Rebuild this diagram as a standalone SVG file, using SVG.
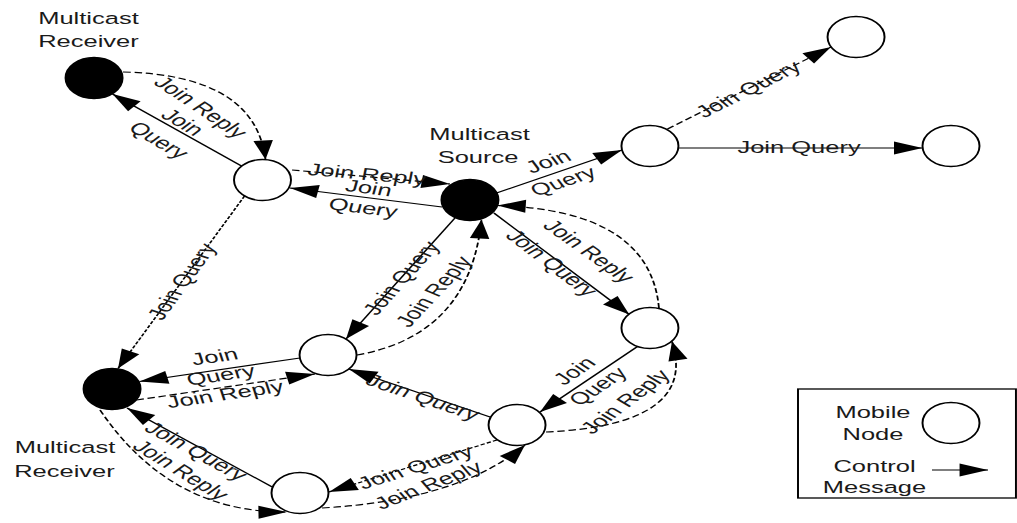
<svg xmlns="http://www.w3.org/2000/svg" width="1017" height="523" viewBox="0 0 1017 523">
  <style>
    .node { fill: #ffffff; stroke: #000000; stroke-width: 1.3; }
    .mc { fill: #000000; stroke: #000000; stroke-width: 1.3; }
    .q { fill: none; stroke: #000000; stroke-width: 1.2; }
    .qd { fill: none; stroke: #000000; stroke-width: 1.2; stroke-dasharray: 3 1.5; }
    .r { fill: none; stroke: #000000; stroke-width: 1.2; stroke-dasharray: 5 2.5; }
    text { font-family: "Liberation Sans", Arial, sans-serif; font-size: 17px; fill: #1a1a1a; text-anchor: middle; }
    .legend-box { fill: none; stroke: #000000; stroke-width: 1.3; }
  </style>
  <defs>
    <marker id="arrow" markerUnits="userSpaceOnUse" markerWidth="20" markerHeight="14" refX="19" refY="6.5" orient="auto" overflow="visible">
      <path d="M0,0 L19,6.5 L0,13 z" fill="#000000"/>
    </marker>
  </defs>

  <!-- whole drawing is laid out in a frame that is stretched 1.5x horizontally -->
  <g transform="scale(1.5,1)">

    <g id="connectors">
      <path class="q" d="M161,166 L75,94" marker-end="url(#arrow)"/>
      <path class="r" d="M82,72 Q170,75 177,159.5" marker-end="url(#arrow)"/>
      <path class="r" d="M194.7,170 L300,184" marker-end="url(#arrow)"/>
      <path class="q" d="M294.7,207 L193.3,188" marker-end="url(#arrow)"/>
      <path class="q" d="M331,193 L414.7,150" marker-end="url(#arrow)"/>
      <path class="r" d="M445,129 L554,47" marker-end="url(#arrow)"/>
      <path class="q" d="M452,148 L615,148" marker-end="url(#arrow)"/>
      <path class="q" d="M303.3,218 L230.7,339" marker-end="url(#arrow)"/>
      <path class="r" d="M238,355 Q313.3,335 321,219.5" marker-end="url(#arrow)"/>
      <path class="q" d="M329.3,213 L419.5,314.5" marker-end="url(#arrow)"/>
      <path class="r" d="M439.3,308 Q433.3,210 331.5,205.5" marker-end="url(#arrow)"/>
      <path class="q" d="M425,346.5 L360,412" marker-end="url(#arrow)"/>
      <path class="r" d="M364,432 Q466,425 448,341.5" marker-end="url(#arrow)"/>
      <path class="q" d="M326.7,417 L232.5,369" marker-end="url(#arrow)"/>
      <path class="q" d="M200,358 L93,381.5" marker-end="url(#arrow)"/>
      <path class="r" d="M91,400 L210,374" marker-end="url(#arrow)"/>
      <path class="qd" d="M163,196 L78.7,368.5" marker-end="url(#arrow)"/>
      <path class="q" d="M181.5,487 L84.7,408" marker-end="url(#arrow)"/>
      <path class="r" d="M66.7,410 Q113.3,513 191.3,512" marker-end="url(#arrow)"/>
      <path class="qd" d="M331.3,440 L219.3,492" marker-end="url(#arrow)"/>
      <path class="r" d="M214.7,508 Q306.7,500 350,445" marker-end="url(#arrow)"/>
    </g>

    <g id="connector-labels">
      <g transform="translate(114,131) rotate(41.5)"><text y="-6">Join</text><text y="18">Query</text></g>
      <text transform="translate(134,107) rotate(45)" dy="0.35em">Join Reply</text>
      <text transform="translate(244.7,174) rotate(7.6)" dy="0.35em">Join Reply</text>
      <g transform="translate(244,197.5) rotate(10.6)"><text y="-4">Join</text><text y="16">Query</text></g>
      <g transform="translate(370.7,172) rotate(-26.9)"><text y="-6">Join</text><text y="16">Query</text></g>
      <text transform="translate(498.7,89) rotate(-37)" dy="0.35em">Join Query</text>
      <text transform="translate(532.7,147.5)" dy="0.35em">Join Query</text>
      <text transform="translate(267.3,278) rotate(-59)" dy="0.35em">Join Query</text>
      <text transform="translate(289,291.5) rotate(-57.7)" dy="0.35em">Join Reply</text>
      <text transform="translate(368,263) rotate(48.4)" dy="0.35em">Join Query</text>
      <text transform="translate(392.7,251) rotate(46.6)" dy="0.35em">Join Reply</text>
      <g transform="translate(392,379.8) rotate(-45.2)"><text y="-7">Join</text><text y="15">Query</text></g>
      <text transform="translate(416.7,401.5) rotate(-48.4)" dy="0.35em">Join Reply</text>
      <text transform="translate(282,397) rotate(26.7)" dy="0.35em">Join Query</text>
      <g transform="translate(146,370) rotate(-12.4)"><text y="-8">Join</text><text y="11">Query</text></g>
      <text transform="translate(150,394) rotate(-12.3)" dy="0.35em">Join Reply</text>
      <text transform="translate(121,281.5) rotate(-64)" dy="0.35em">Join Query</text>
      <text transform="translate(131,451) rotate(39.2)" dy="0.35em">Join Query</text>
      <text transform="translate(120.7,470) rotate(42.6)" dy="0.35em">Join Reply</text>
      <text transform="translate(276.7,467) rotate(-24.9)" dy="0.35em">Join Query</text>
      <text transform="translate(285.3,485) rotate(-30)" dy="0.35em">Join Reply</text>
    </g>

    <g id="receiver-top">
      <ellipse class="mc" cx="62.7" cy="78" rx="19" ry="20.5"/>
      <text x="59" y="24">Multicast</text>
      <text x="59" y="47">Receiver</text>
    </g>
    <g id="node-a"><ellipse class="node" cx="175" cy="180" rx="19" ry="20.5"/></g>
    <g id="source">
      <ellipse class="mc" cx="313.3" cy="200" rx="19" ry="20.5"/>
      <text x="319.7" y="140">Multicast</text>
      <text x="318.7" y="163">Source</text>
    </g>
    <g id="node-b"><ellipse class="node" cx="433.3" cy="146" rx="19" ry="20.5"/></g>
    <g id="node-c"><ellipse class="node" cx="570.7" cy="37" rx="19" ry="20.5"/></g>
    <g id="node-d"><ellipse class="node" cx="634" cy="146" rx="19" ry="20.5"/></g>
    <g id="node-e"><ellipse class="node" cx="218.7" cy="355" rx="19" ry="20.5"/></g>
    <g id="receiver-bottom">
      <ellipse class="mc" cx="74.7" cy="389" rx="19" ry="20.5"/>
      <text x="43.3" y="453">Multicast</text>
      <text x="43" y="477">Receiver</text>
    </g>
    <g id="node-f"><ellipse class="node" cx="433.3" cy="328" rx="19" ry="20.5"/></g>
    <g id="node-g"><ellipse class="node" cx="344.7" cy="425" rx="19" ry="20.5"/></g>
    <g id="node-h"><ellipse class="node" cx="200" cy="493" rx="19" ry="20.5"/></g>

    <g id="legend">
      <rect class="legend-box" x="532" y="389" width="145.3" height="109"/>
      <text x="582" y="418">Mobile</text>
      <text x="582" y="440">Node</text>
      <ellipse class="node" cx="634" cy="423" rx="19" ry="20.5"/>
      <text x="583" y="472">Control</text>
      <text x="583" y="493">Message</text>
      <path class="q" d="M621.3,470 L658.7,470" marker-end="url(#arrow)"/>
    </g>
  </g>
</svg>
